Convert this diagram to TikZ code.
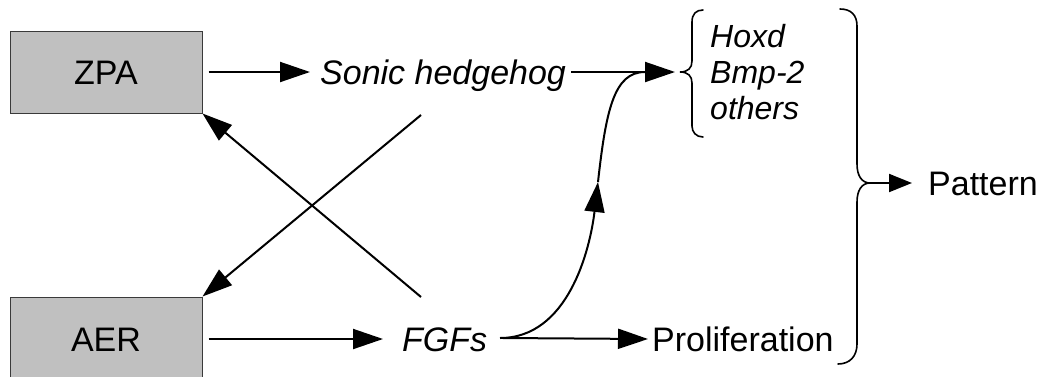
\documentclass[tikz,border=0pt]{standalone}
\usepackage{fontspec}
\setmainfont{Liberation Sans}
\usetikzlibrary{arrows.meta}
\definecolor{boxgray}{HTML}{C0C0C0}
\definecolor{boxline}{HTML}{3A3A3A}
\tikzset{
  cell/.style={draw=boxline, line width=1pt, fill=boxgray, minimum width=192pt, minimum height=82pt, inner sep=0pt,
    font=\fontsize{34}{40}\selectfont, text height=24.4pt, text depth=0pt},
  lbl/.style={inner sep=0pt, font=\fontsize{34}{40}\selectfont, text height=24.4pt, text depth=0pt, anchor=west},
  ilbl/.style={lbl, font=\fontsize{34}{40}\selectfont\itshape},
  gene/.style={inner sep=0pt, font=\fontsize{32}{38}\selectfont\itshape, text height=23pt, text depth=0pt, anchor=west},
  arr/.style={line width=2pt, -{Triangle[length=30pt,width=20pt]}},
  sarr/.style={line width=2pt, -{Triangle[length=23pt,width=18pt]}},
  plain/.style={line width=2pt},
  brace/.style={line width=1.6pt, line cap=round}
}
\begin{document}
\begin{tikzpicture}[x=1pt,y=-1pt]
\useasboundingbox (0,0) rectangle (1041,376);
% boxes
\node[cell] (zpa) at (106,72) {ZPA};
\node[cell, minimum height=84pt] (aer) at (106,339) {AER};
% labels
\node[ilbl] (shh) at (320,72) {Sonic hedgehog};
\node[ilbl] (fgf) at (402,339) {FGFs};
\node[lbl] (prol) at (652,339) {Proliferation};
\node[lbl] (pat) at (928,183) {Pattern};
\node[gene] (hoxd) at (710,36) {Hoxd};
\node[gene] (bmp) at (710,72) {Bmp-2};
\node[gene] (oth) at (710,108) {others};
% coordinates
\coordinate (gin) at (675,72);
\coordinate (ptip) at (870,183);
\coordinate (x1) at (421,115);
\coordinate (x2) at (421,297);
\coordinate (fgo) at (500,338);
\coordinate (mid) at (598,182);
\coordinate (join) at (645,72);
% braces
\draw[brace] (703,10) .. controls (696,10) and (692,14) .. (692,22) -- (692,61)
  .. controls (692,68) and (688,72) .. (680,72)
  .. controls (688,72) and (692,76) .. (692,83) -- (692,126)
  .. controls (692,132) and (696,137) .. (703,137);
\draw[brace] (840,9) .. controls (851,9) and (857,15) .. (857,26) -- (857,164)
  .. controls (857,176) and (862,183) .. (ptip)
  .. controls (862,183) and (857,190) .. (857,202) -- (857,344)
  .. controls (857,356) and (850,364) .. (838,364);
% connectors
\draw[arr] ([xshift=6pt]zpa.east) -- ([xshift=-10pt]shh.west);
\draw[arr] ([xshift=6pt]aer.east) -- ([xshift=-19pt]fgf.west);
\draw[arr] ([xshift=5pt]shh.east) -- (gin);
\draw[arr] (x1) -- (aer.north east);
\draw[arr] (x2) -- (zpa.south east);
\draw[arr] ([xshift=3pt]fgo) -- ([xshift=-4pt]prol.west);
\draw[arr] (fgo) .. controls (568,338) and (590,250) .. (mid);
\draw[plain] (mid) .. controls (606,110) and (614,72) .. (join);
\draw[sarr] (ptip) -- ([xshift=-16pt]pat.west);
\end{tikzpicture}
\end{document}
